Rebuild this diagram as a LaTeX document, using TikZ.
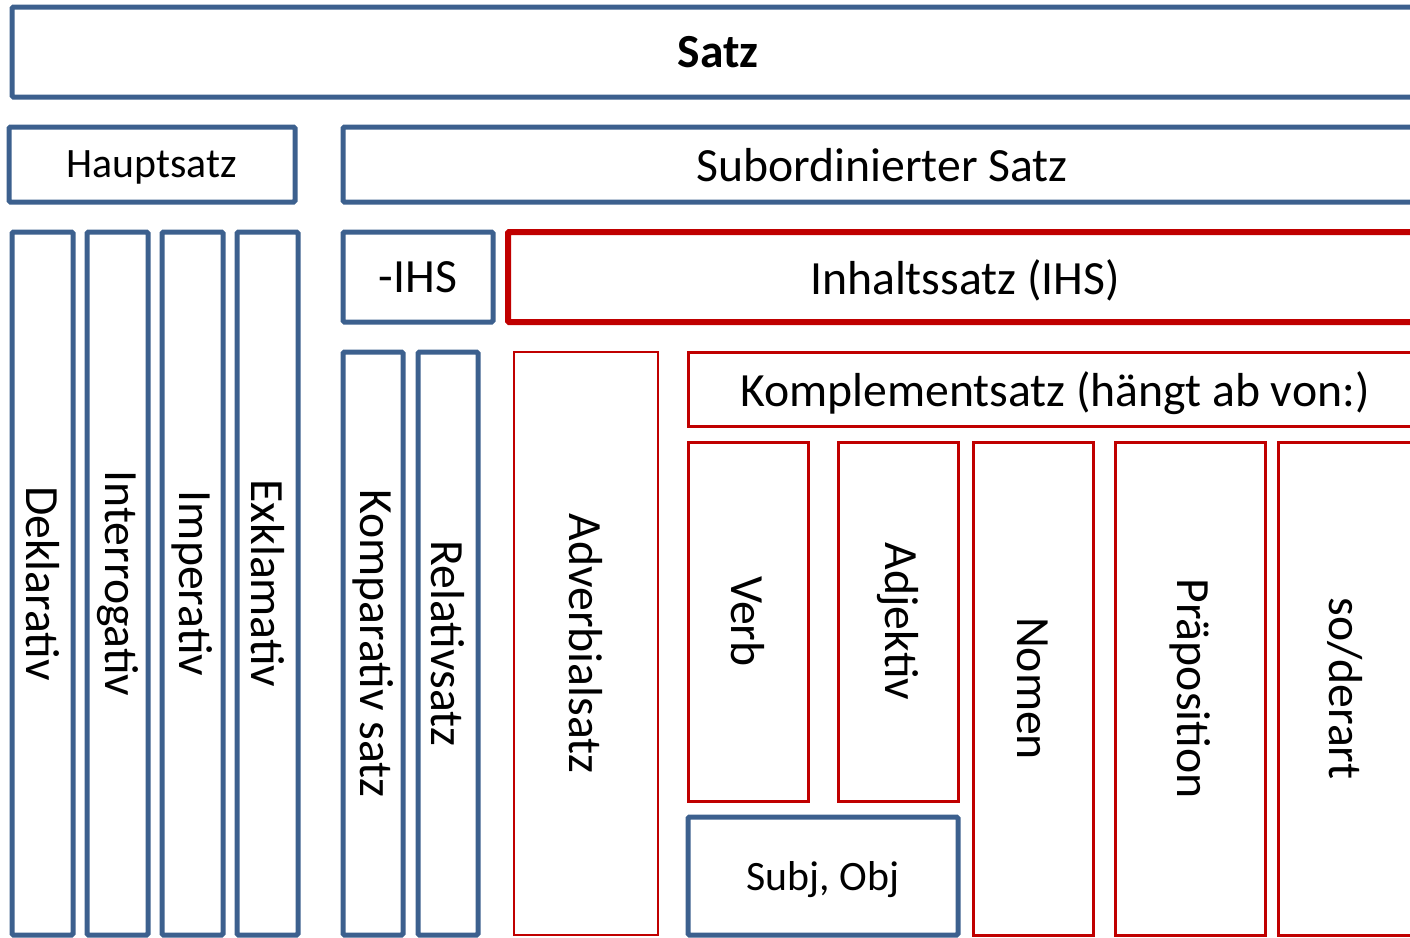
\documentclass[tikz,border=0pt]{standalone}
\usepackage{fontspec}
\setmainfont{Carlito}
\definecolor{bl}{RGB}{60,96,142}
\definecolor{rd}{RGB}{192,0,0}
\tikzset{
  base/.style={rectangle, inner sep=0pt, text=black, font=\fontsize{47.7}{52}\selectfont},
  bbox/.style={base, draw=bl, line width=5pt, rounded corners=1.5pt},
  rthick/.style={base, draw=rd, line width=6pt, rounded corners=1pt},
  rmid/.style={base, draw=rd, line width=3pt},
  rthin/.style={base, draw=rd, line width=1.8pt},
  small/.style={font=\fontsize{41.8}{46}\selectfont},
  horiz/.style={text depth=0pt},
  vert/.style={rotate=-90},
}
\begin{document}
\begin{tikzpicture}[x=1pt,y=-1pt]
\useasboundingbox (0,0) rectangle (1410,937);
\clip (0,0) rectangle (1410,937);
% top level
\node[bbox, minimum width=1412, minimum height=90, font=\fontsize{47.5}{52}\selectfont\bfseries] (satz) at (718,52) {Satz};
\node[bbox, small, horiz, minimum width=286, minimum height=75] (haupt) at (152,164.5) {Hauptsatz};
\node[bbox, horiz, minimum width=1078, minimum height=75] (sub) at (882,164.5) {Subordinierter Satz};
% Hauptsatz types
\node[bbox, vert, minimum width=703, minimum height=61] (dekl) at (42.5,583.5) {Deklarativ};
\node[bbox, vert, minimum width=703, minimum height=61] (inter) at (117.5,583.5) {Interrogativ};
\node[bbox, vert, minimum width=703, minimum height=61] (imper) at (192.5,583.5) {Imperativ};
\node[bbox, vert, minimum width=703, minimum height=61] (exkl) at (267.5,583.5) {Exklamativ};
% subordinate
\node[bbox, minimum width=150, minimum height=90] (nihs) at (418,277) {-IHS};
\node[rthick, horiz, minimum width=914, minimum height=90] (ihs) at (965,277) {Inhaltssatz (IHS)};
\node[bbox, vert, minimum width=583, minimum height=60] (komp) at (373,643.5) {Komparativ satz};
\node[bbox, vert, minimum width=583, minimum height=60] (rel) at (448,643.5) {Relativsatz};
\node[rthin, vert, minimum width=583, minimum height=144] (adv) at (586,643.5) {Adverbialsatz};
\node[rmid, horiz, minimum width=734, minimum height=74] (kompl) at (1055,389) {Komplementsatz (hängt ab von:)};
\node[rmid, vert, minimum width=359, minimum height=120] (verb) at (748,621.5) {Verb};
\node[rmid, vert, minimum width=359, minimum height=120] (adj) at (898,621.5) {Adjektiv};
\node[bbox, small, horiz, minimum width=270, minimum height=118] (subj) at (823,876) {Subj, Obj};
\node[rmid, vert, minimum width=493, minimum height=120] (nomen) at (1033,688.5) {Nomen};
\node[rmid, vert, minimum width=493, minimum height=150] (prep) at (1190,688.5) {Präposition};
\node[rmid, vert, minimum width=493, minimum height=134] (so) at (1345,688.5) {so/derart};
\end{tikzpicture}
\end{document}
